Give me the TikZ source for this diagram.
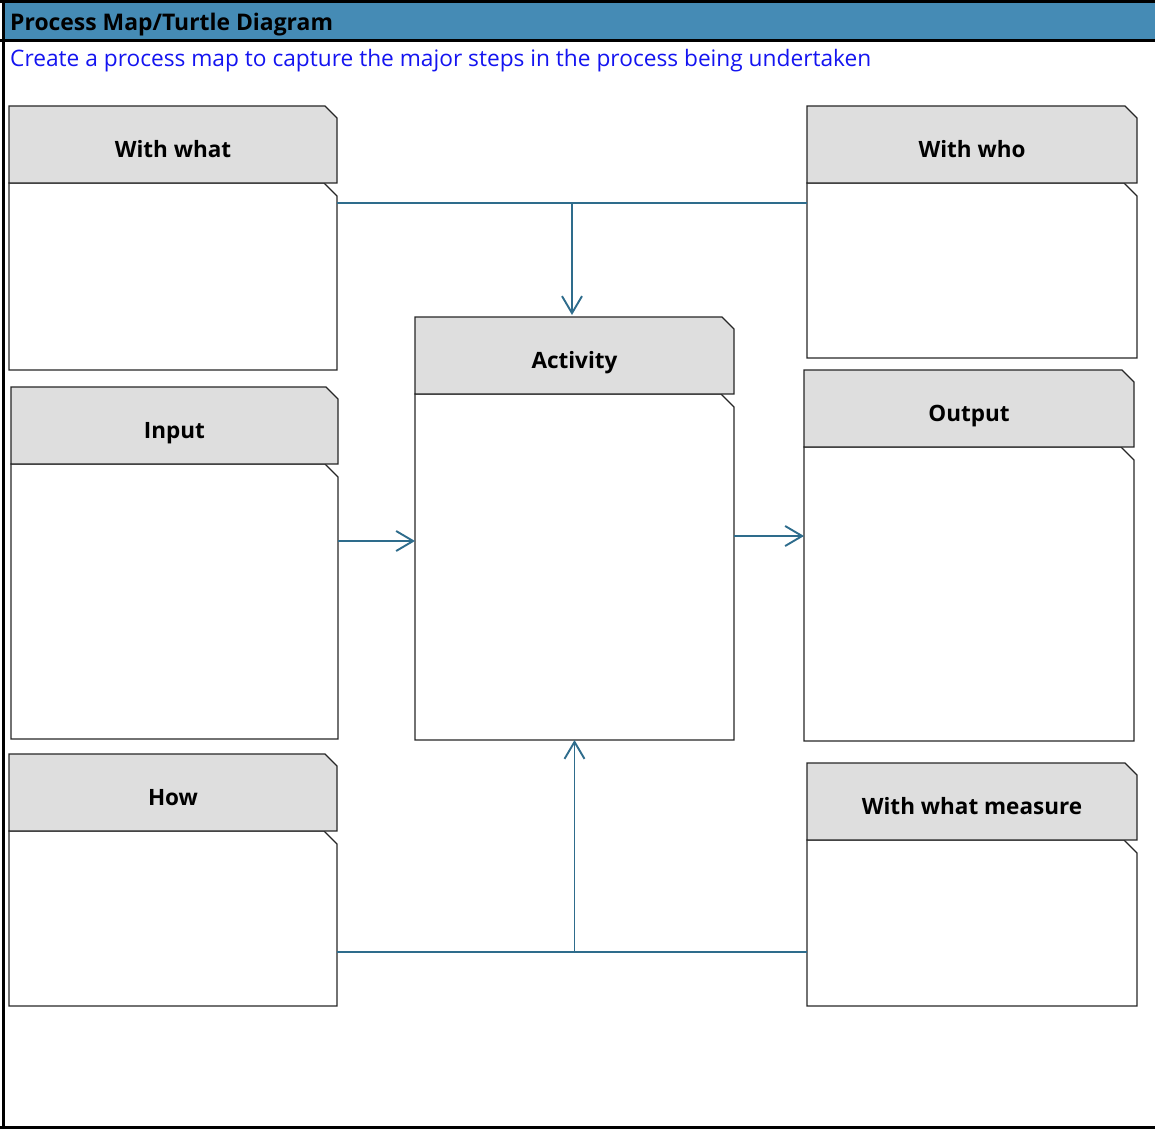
\documentclass[tikz,border=0pt]{standalone}
\usepackage{fontspec}
\setmainfont{Open Sans}
\usetikzlibrary{arrows.meta,shapes.misc,positioning}

\definecolor{barblue}{RGB}{69,139,181}
\definecolor{headgray}{RGB}{222,222,222}
\definecolor{linkblue}{RGB}{46,108,140}
\definecolor{noteblue}{RGB}{20,20,240}

\tikzset{
  cardline/.style={draw=black!85, line width=1.3pt, line join=miter},
  cardhead/.style={chamfered rectangle, chamfered rectangle corners=north east,
    chamfered rectangle xsep=6pt, chamfered rectangle ysep=6pt,
    cardline, fill=headgray, inner sep=0pt, outer sep=0pt, anchor=north west,
    minimum height=77pt, font=\fontsize{22.5}{27}\selectfont\bfseries,
    text height=25pt, text depth=0pt},
  cardbody/.style={rectangle, inner sep=0pt, outer sep=0pt, anchor=north west},
  link/.style={draw=linkblue, line width=1.9pt},
  linkarrow/.style={link, -{Straight Barb[length=17pt,width=20pt]}},
  frameline/.style={line width=2.7pt}
}

\begin{document}
\begin{tikzpicture}[x=1pt,y=-1pt]
\useasboundingbox (0,0) rectangle (1155,1129);

% title bar
\fill[barblue] (3,1.3) rectangle (1160,40.7);
\draw[frameline] (0,1.3) -- (1160,1.3);
\draw[frameline] (0,40.7) -- (1160,40.7);
\draw[frameline] (3.3,0) -- (3.3,1129);
\draw[frameline] (0,1127.7) -- (1160,1127.7);
\node[anchor=base west, font=\fontsize{22.9}{27}\selectfont\bfseries, inner sep=0pt] (title) at (10,31) {Process Map/Turtle Diagram};
\node[anchor=base west, font=\fontsize{22.7}{27}\selectfont, text=noteblue, inner sep=0pt] (note) at (10,67) {Create a process map to capture the major steps in the process being undertaken};

% the seven cards: body first, header on top
\node[cardbody, minimum width=328pt, minimum height=187pt] (whatbody) at (9,183) {};
\node[cardbody, minimum width=327pt, minimum height=275pt] (inbody) at (11,464) {};
\node[cardbody, minimum width=328pt, minimum height=175pt] (howbody) at (9,831) {};
\node[cardbody, minimum width=319pt, minimum height=346pt] (actbody) at (415,394) {};
\node[cardbody, minimum width=330pt, minimum height=175pt] (whobody) at (807,183) {};
\node[cardbody, minimum width=330pt, minimum height=294pt] (outbody) at (804,447) {};
\node[cardbody, minimum width=330pt, minimum height=166pt] (measurebody) at (807,840) {};

\foreach \b in {whatbody,inbody,howbody,actbody,whobody,outbody,measurebody}
  \draw[cardline] (\b.north west) -- ([xshift=-13pt]\b.north east) -- ([yshift=-13pt]\b.north east)
    -- (\b.south east) -- (\b.south west) -- cycle;

\node[cardhead, minimum width=328pt] (whathead) at (9,106) {With what};
\node[cardhead, minimum width=327pt] (inhead) at (11,387) {Input};
\node[cardhead, minimum width=328pt] (howhead) at (9,754) {How};
\node[cardhead, minimum width=319pt] (acthead) at (415,317) {Activity};
\node[cardhead, minimum width=330pt] (whohead) at (807,106) {With who};
\node[cardhead, minimum width=330pt] (outhead) at (804,370) {Output};
\node[cardhead, minimum width=330pt] (measurehead) at (807,763) {With what measure};

% connectors
\coordinate (toprail) at (0,203);
\coordinate (botrail) at (0,952);
\coordinate (inlevel) at (0,541);
\coordinate (outlevel) at (0,536);

\draw[link] (whatbody.east |- toprail) -- (whobody.west |- toprail);
\draw[linkarrow] ([xshift=-2.5pt]acthead.north |- toprail) -- ([xshift=-2.5pt,yshift=2pt]acthead.north);

\draw[linkarrow] (inbody.east |- inlevel) -- (actbody.west |- inlevel);
\draw[linkarrow] (actbody.east |- outlevel) -- (outbody.west |- outlevel);

\draw[link] (howbody.east |- botrail) -- (measurebody.west |- botrail);
\draw[linkarrow] (actbody.south |- botrail) -- (actbody.south);

\end{tikzpicture}
\end{document}
